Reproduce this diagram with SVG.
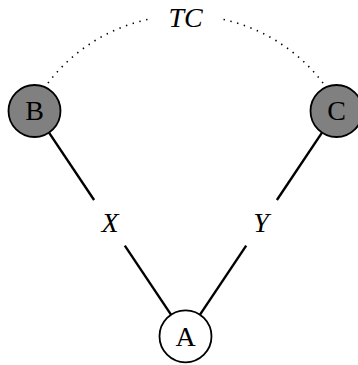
<svg xmlns="http://www.w3.org/2000/svg" width="358" height="365" viewBox="0 0 358 365">
<style>
.node{stroke:#000;stroke-width:1.8}
.gray{fill:#808080}
.white{fill:#fff}
.lbl{font-family:"Liberation Serif","DejaVu Serif",serif;font-size:28px;text-anchor:middle;fill:#000}
.it{font-style:italic}
.edge{stroke:#000;stroke-width:2.4;fill:none}
.dot{stroke:#000;stroke-width:1.6;fill:none;stroke-dasharray:1.4 5.6}
</style>
<rect width="358" height="365" fill="#fff"/>
<g id="connectors">
<line class="edge" x1="49" y1="132.6" x2="94.1" y2="200"/>
<line class="edge" x1="124.8" y1="245.7" x2="171" y2="314.7"/>
<line class="edge" x1="322" y1="132.6" x2="276.9" y2="200"/>
<line class="edge" x1="246.2" y1="245.7" x2="200" y2="314.7"/>
<path class="dot" d="M48,83 A171.3,171.3 0 0 1 152,18.6"/>
<path class="dot" d="M323,83 A171.3,171.3 0 0 0 219,18.6"/>
<text class="lbl it" x="110" y="232">X</text>
<text class="lbl it" x="261" y="232">Y</text>
<text class="lbl it" x="185.5" y="26.5">TC</text>
</g>
<g id="B">
<circle class="node gray" cx="34.5" cy="111" r="26"/>
<text class="lbl" x="34.5" y="120">B</text>
</g>
<g id="C">
<circle class="node gray" cx="336.5" cy="111" r="26"/>
<text class="lbl" x="336.5" y="120">C</text>
</g>
<g id="A">
<circle class="node white" cx="185.5" cy="336.3" r="26"/>
<text class="lbl" x="185.5" y="346">A</text>
</g>
</svg>
